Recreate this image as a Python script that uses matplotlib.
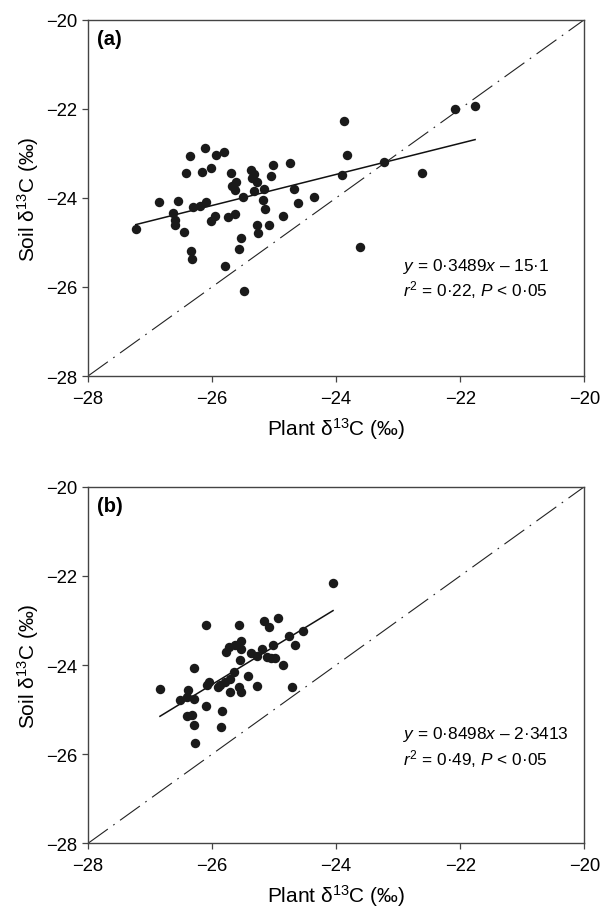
import matplotlib
matplotlib.use("Agg")
import matplotlib.pyplot as plt
import numpy as np

plt.rcParams['font.family'] = ['Liberation Sans', 'DejaVu Sans']

# Panel (a): plant vs soil d13C
plant_a = [-23.87, -23.83, -23.91, -26.12, -26.35, -25.94, -25.80, -26.42, -26.17, -26.02,
           -25.70, -25.38, -25.32, -25.35, -25.28, -25.02, -24.75, -25.05, -25.61, -25.68,
           -25.63, -25.50, -25.33, -25.17, -24.68, -25.18, -24.62, -24.35, -25.15, -24.85,
           -25.08, -25.28, -25.26, -26.85, -26.55, -26.30, -26.19, -26.09, -26.63, -26.60,
           -26.60, -26.46, -27.23, -26.02, -25.95, -25.75, -25.63, -25.53, -25.56, -26.34,
           -26.33, -25.79, -25.49, -23.62, -22.08, -21.76, -23.23, -22.61]
soil_a = [-22.27, -23.04, -23.48, -22.89, -23.06, -23.03, -22.97, -23.44, -23.41, -23.33,
          -23.45, -23.38, -23.47, -23.56, -23.65, -23.26, -23.21, -23.52, -23.65, -23.73,
          -23.82, -23.97, -23.85, -23.81, -23.81, -24.04, -24.11, -23.98, -24.26, -24.40,
          -24.61, -24.61, -24.78, -24.09, -24.08, -24.20, -24.19, -24.10, -24.33, -24.50,
          -24.60, -24.77, -24.69, -24.51, -24.40, -24.43, -24.36, -24.90, -25.15, -25.19,
          -25.37, -25.54, -26.10, -25.11, -22.01, -21.93, -23.20, -23.44]

# Panel (b)
plant_b = [-24.05, -26.09, -25.57, -25.17, -25.09, -24.94, -24.54, -24.76, -24.66, -25.02,
           -25.54, -25.63, -25.72, -25.53, -25.77, -25.38, -25.19, -25.28, -25.12, -24.98,
           -25.05, -25.55, -24.85, -25.65, -26.29, -25.42, -26.05, -26.08, -25.71, -25.79,
           -25.87, -25.90, -25.28, -25.56, -25.53, -25.71, -24.71, -26.84, -26.39, -26.52,
           -26.40, -26.29, -26.10, -25.84, -26.41, -26.33, -26.29, -25.85, -26.27]
soil_b = [-22.16, -23.11, -23.11, -23.02, -23.15, -22.94, -23.24, -23.34, -23.55, -23.54,
          -23.47, -23.56, -23.60, -23.63, -23.71, -23.72, -23.65, -23.80, -23.83, -23.85,
          -23.84, -23.89, -24.01, -24.16, -24.07, -24.25, -24.37, -24.44, -24.31, -24.38,
          -24.45, -24.49, -24.46, -24.50, -24.60, -24.61, -24.49, -24.54, -24.55, -24.79,
          -24.72, -24.77, -24.92, -25.03, -25.14, -25.11, -25.35, -25.40, -25.76]

# fitted lines (slope, intercept) as printed on the figure
fit_a = (0.3489, -15.1)
fit_b = (0.8498, -2.3413)
eq_a = ["$\\it{y}$ = 0·3489$\\it{x}$ – 15·1", "$\\it{r}^2$ = 0·22, $\\it{P}$ < 0·05"]
eq_b = ["$\\it{y}$ = 0·8498$\\it{x}$ – 2·3413", "$\\it{r}^2$ = 0·49, $\\it{P}$ < 0·05"]

ticks = [-28, -26, -24, -22, -20]

plt.rcParams['mathtext.fontset'] = 'custom'
plt.rcParams['mathtext.rm'] = 'Liberation Sans'
plt.rcParams['mathtext.it'] = 'Liberation Sans:italic'

fig = plt.figure(figsize=(6.01, 9.12), dpi=100)
ax_a = fig.add_axes([0.1464, 0.5866, 0.8258, 0.3907])
ax_b = fig.add_axes([0.1464, 0.0742, 0.8258, 0.3910])

def panel(ax, x, y, fit, eq, tag, eqpos):
    ax.plot([-28, -20], [-28, -20], color='#222222', lw=0.8,
            linestyle=(0, (22, 6, 1.5, 6)))
    xs = np.array([min(x), max(x)])
    ax.plot(xs, fit[0] * xs + fit[1], color='#111111', lw=1.1)
    ax.plot(x, y, 'o', color='#1a1a1a', markersize=6.8, markeredgewidth=0)
    ax.set_xlim(-28, -20)
    ax.set_ylim(-28, -20)
    ax.set_xticks(ticks)
    ax.set_yticks(ticks)
    ax.tick_params(labelsize=13.3, direction='out', length=4.5, width=0.9,
                   color='#444444', top=False, right=False)
    ax.tick_params(axis='x', pad=5.5)
    for s in ax.spines.values():
        s.set_color('#444444')
        s.set_linewidth(1.0)
    ax.set_xlabel('Plant δ$^{13}$C (‰)', fontsize=15, labelpad=6)
    ax.set_ylabel('Soil δ$^{13}$C (‰)', fontsize=15, labelpad=3)
    ax.text(0.018, 0.975, tag, transform=ax.transAxes, fontsize=14.5,
            fontweight='bold', va='top', ha='left')
    ax.text(eqpos[0], eqpos[1], eq[0], fontsize=12.4, ha='left', va='baseline')
    ax.text(eqpos[0], eqpos[1] - 0.58, eq[1], fontsize=12.4, ha='left', va='baseline')

panel(ax_a, plant_a, soil_a, fit_a, eq_a, '(a)', (-22.92, -25.62))
panel(ax_b, plant_b, soil_b, fit_b, eq_b, '(b)', (-22.92, -25.64))

fig.savefig('out.png', dpi=100)
